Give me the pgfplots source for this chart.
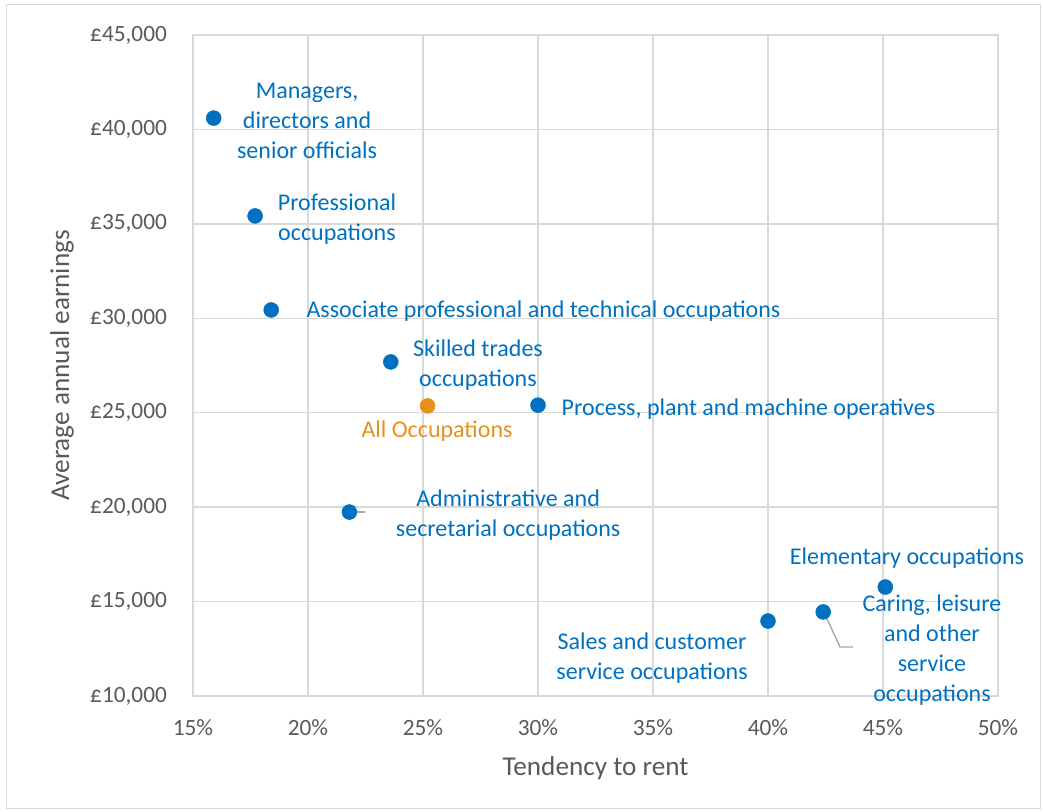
\documentclass[border=0pt]{standalone}
\usepackage{fontspec}
\setmainfont{Carlito}
\usepackage{pgfplots}
\pgfplotsset{compat=1.18}
\definecolor{ptblue}{HTML}{0070C0}
\definecolor{ptorange}{HTML}{E8901E}
\definecolor{gridgray}{HTML}{D9D9D9}
\definecolor{txtgray}{HTML}{595959}
\definecolor{leadgray}{HTML}{A6A6A6}
\tikzset{lbl/.style={align=center, text=ptblue, font=\fontsize{18}{22.5}\selectfont, anchor=center, yshift=-1.5pt}}

\begin{document}
\begin{tikzpicture}
\path[use as bounding box] (-144.75pt,-86.25pt) rectangle (637.5pt,522pt);
\draw[gridgray, line width=0.75pt] (-139.5pt,-84pt) rectangle (635.25pt,518.25pt);
\begin{axis}[
  scale only axis, width=603.75pt, height=495.75pt,
  xmin=15, xmax=50, ymin=10000, ymax=45000,
  xtick={15,20,...,50}, ytick={10000,15000,...,45000},
  scaled y ticks=false,
  clip=false,
  grid=major, grid style={gridgray, line width=1.1pt},
  axis line style={gridgray, line width=1.1pt},
  major tick length=0pt,
  tick label style={font=\fontsize{17.5}{21}\selectfont, text=txtgray},
  xticklabel style={yshift=-14pt},
  yticklabel style={xshift=-16pt},
  xticklabel={\pgfmathprintnumber{\tick}\%},
  yticklabel={£\pgfmathprintnumber{\tick}},
  /pgf/number format/fixed, /pgf/number format/precision=0,
  /pgf/number format/1000 sep={,}, /pgf/number format/assume math mode=true,
  label style={font=\fontsize{20.4}{24}\selectfont, text=txtgray},
  xlabel={Tendency to rent}, ylabel={Average annual earnings},
  xlabel style={at={(axis description cs:0.5,-0.1089)}, anchor=center},
  ylabel style={at={(axis description cs:-0.1627,0.5)}, anchor=center},
]
% leader lines
\draw[leadgray, line width=1pt] (axis cs:21.83,19743) -- (axis cs:22.48,19743);
\draw[leadgray, line width=1pt] (axis cs:42.43,14448) -- (axis cs:43.13,12595) -- (axis cs:43.70,12595);

\addplot[only marks, mark=*, mark size=5.6pt, color=ptblue] coordinates {
  (15.9,40600) (17.7,35420) (18.4,30440) (23.6,27690) (30.0,25400)
  (21.8,19740) (45.1,15770) (42.4,14450) (40.0,13970)};
\addplot[only marks, mark=*, mark size=5.6pt, color=ptorange] coordinates {(25.2,25360)};

\node[lbl] at (axis cs:19.96,40552) {Managers,\\directors and\\senior officials};
\node[lbl] at (axis cs:21.26,35363) {Professional\\occupations};
\node[lbl] at (axis cs:30.24,30492) {Associate professional and technical occupations};
\node[lbl] at (axis cs:27.39,27633) {Skilled trades\\occupations};
\node[lbl, text=ptorange] at (axis cs:25.61,24138) {All Occupations};
\node[lbl] at (axis cs:39.15,25303) {Process, plant and machine operatives};
\node[lbl] at (axis cs:28.70,19690) {Administrative and\\secretarial occupations};
\node[lbl] at (axis cs:46.04,17413) {Elementary occupations};
\node[lbl] at (axis cs:47.13,12542) {Caring, leisure\\and other\\service\\occupations};
\node[lbl] at (axis cs:34.96,12119) {Sales and customer\\service occupations};
\end{axis}
\end{tikzpicture}
\end{document}
